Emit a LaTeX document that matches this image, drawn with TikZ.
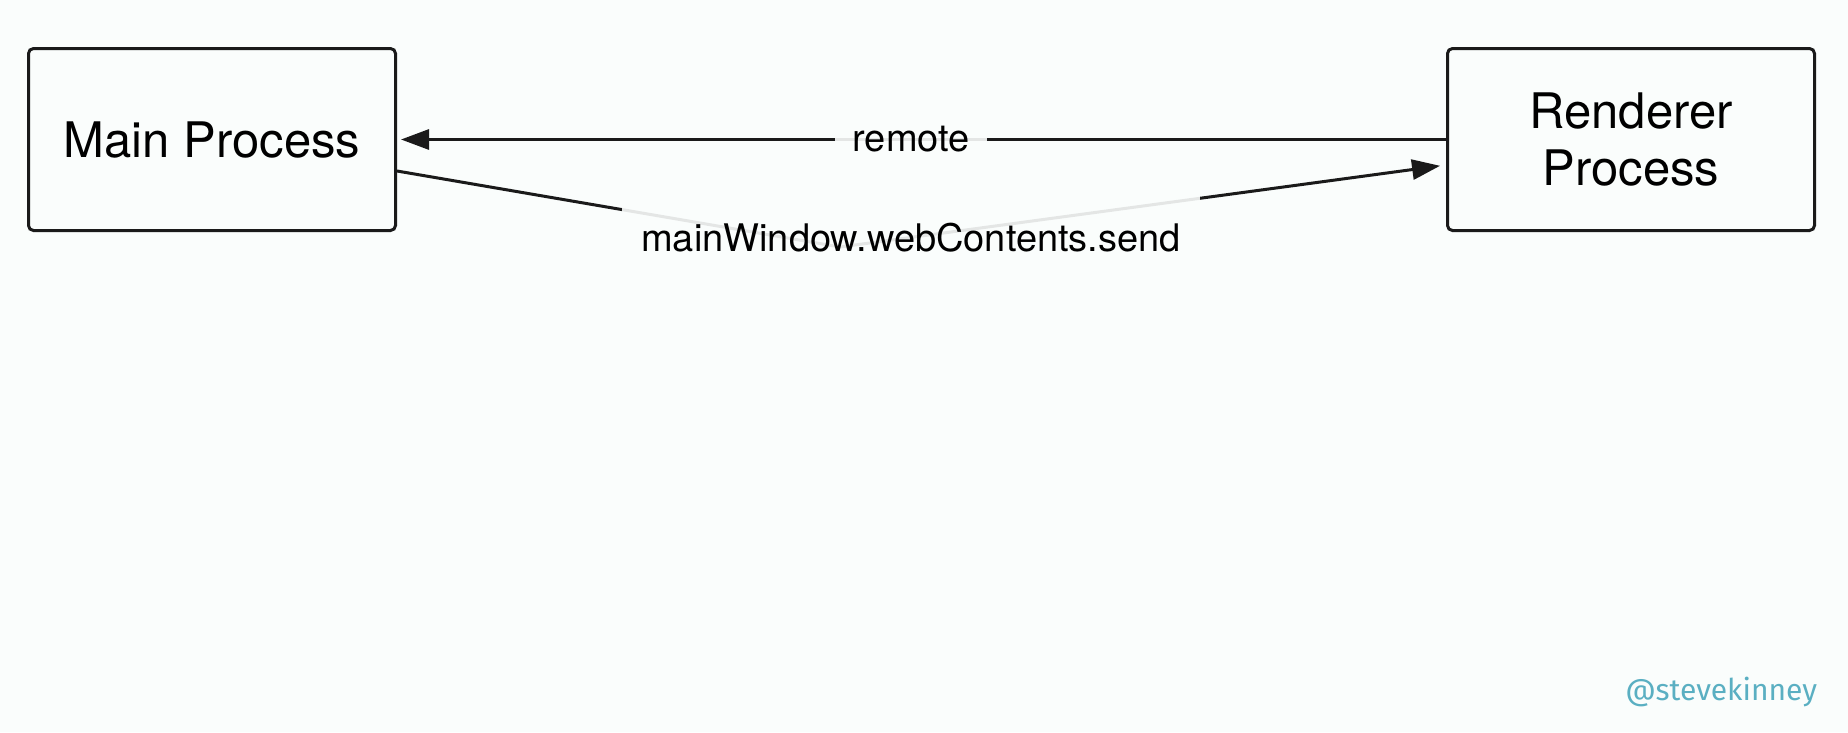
\documentclass[tikz,border=0pt]{standalone}
\usepackage{fontspec}
\setmainfont{TeX Gyre Heros}
\newfontfamily\handlefont{Fira Sans}
\usetikzlibrary{arrows.meta}
\definecolor{slidebg}{HTML}{FAFDFC}
\definecolor{inkgray}{HTML}{1A1A1A}
\definecolor{handleteal}{HTML}{5AAFC2}

\tikzstyle{ipc_style}=[x=1pt,y=-1pt,line width=3pt,draw=inkgray,
  process/.style={rectangle,rounded corners=5pt,draw=inkgray,fill=slidebg,minimum width=367pt,minimum height=182pt,align=center,font=\fontsize{49}{57}\selectfont},
  msg/.style={-{Triangle[length=28pt,width=20pt]}},
  msglabel/.style={rectangle,fill=slidebg,fill opacity=0.9,text opacity=1,draw=none,font=\fontsize{38}{44}\selectfont},
  handle/.style={anchor=base east,text=handleteal,font=\handlefont\fontsize{30}{36}\selectfont},]

\begin{document}
\begin{tikzpicture}[ipc_style]

    % Slide background
    \fill[slidebg] (0,0) rectangle (1848,732);
    \useasboundingbox (0,0) rectangle (1848,732);

    % Draw the two processes
    \node[process] (main) at (212,139.5) {Main Process};
    \node[process] (rend) at (1631,139.5) {Renderer\\Process};

    % remote: renderer calls into the main process
    \draw[msg,shorten >=4pt] (rend.west) -- node[msglabel,pos=0.51,inner xsep=18pt] (remoteLbl) {remote} (main.east);

    % main process sends to the renderer
    \coordinate (bend) at (840,247);
    \draw[msg,shorten >=6pt] ([yshift=-31.5pt]main.east) -- (bend) -- ([yshift=-25.5pt]rend.west);
    \node[msglabel,minimum width=578pt,minimum height=88pt] (sendLbl) at (911,238) {mainWindow.webContents.send};

    \node[handle] (handle) at (1822,700) {@stevekinney};

\end{tikzpicture}
\end{document}
